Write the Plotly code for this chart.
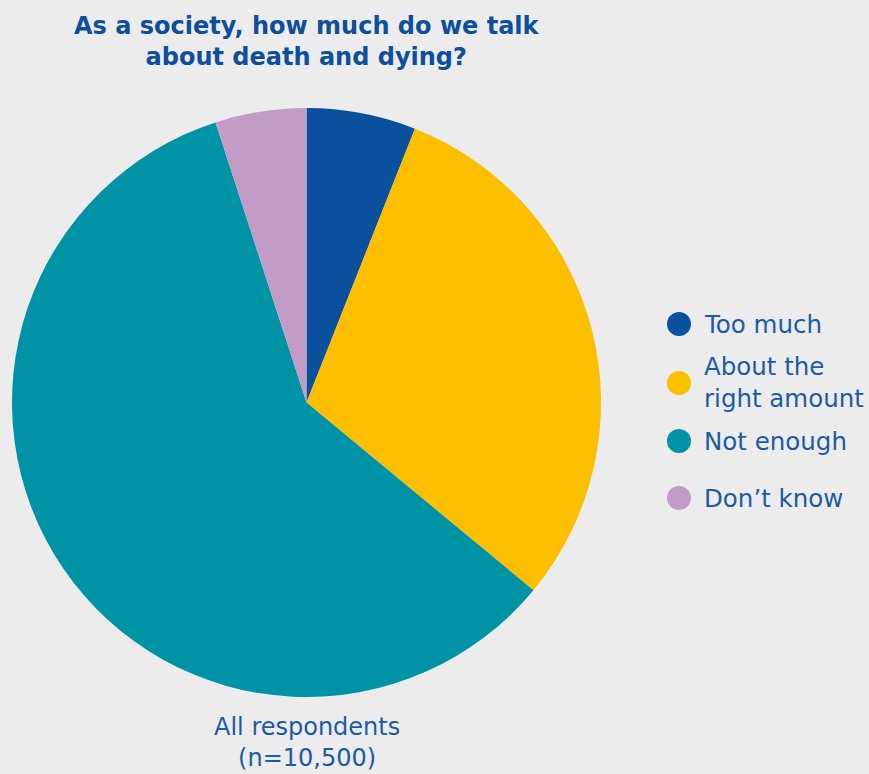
import plotly.graph_objects as go

# Survey responses (share of respondents, %)
categories = ["Too much", "About the right amount", "Not enough", "Don’t know"]
legend_labels = ["Too much", "About the<br>right amount", "Not enough", "Don’t know"]
shares = [6, 30, 59, 5]
colors = ["#0b509d", "#fcbf00", "#0093a6", "#c39bc7"]

W, H = 869, 774
bg = "#ececec"
title_color = "#0d4f9b"
text_color = "#1c5ba3"
font = "DejaVu Sans"

fig = go.Figure()

fig.add_trace(go.Pie(
    labels=categories,
    values=shares,
    marker=dict(colors=colors, line=dict(width=0)),
    sort=False,
    direction="clockwise",
    rotation=0,
    textinfo="none",
    hoverinfo="label+percent",
    showlegend=False,
    domain=dict(x=[12 / W, 601 / W], y=[(H - 697) / H, (H - 108) / H]),
))

# Legend: circle swatches with labels
legend_y = [324, 383, 441, 498]
shapes = []
annotations = []
r = 12
cx = 679
for lab, col, y in zip(legend_labels, colors, legend_y):
    shapes.append(dict(
        type="circle", xref="paper", yref="paper",
        x0=(cx - r) / W, x1=(cx + r) / W,
        y0=(H - y - r) / H, y1=(H - y + r) / H,
        fillcolor=col, line=dict(width=0),
    ))
    annotations.append(dict(
        text=lab, xref="paper", yref="paper",
        x=702 / W, y=(H - y) / H, xanchor="left", yanchor="middle",
        align="left", showarrow=False,
        font=dict(family=font, size=24.5, color=text_color),
    ))

# Title
annotations.append(dict(
    text="<b>As a society, how much do we talk<br>about death and dying?</b>",
    xref="paper", yref="paper", x=307 / W, y=(H - 42) / H,
    xanchor="center", yanchor="middle", showarrow=False, align="center",
    font=dict(family=font, size=24, color=title_color),
))

# Caption under the pie
annotations.append(dict(
    text="All respondents<br>(n=10,500)",
    xref="paper", yref="paper", x=307 / W, y=(H - 742) / H,
    xanchor="center", yanchor="middle", showarrow=False, align="center",
    font=dict(family=font, size=24, color=text_color),
))

fig.update_layout(
    width=W, height=H,
    margin=dict(l=0, r=0, t=0, b=0),
    paper_bgcolor=bg, plot_bgcolor=bg,
    shapes=shapes, annotations=annotations,
)

fig.write_html("out.html")
